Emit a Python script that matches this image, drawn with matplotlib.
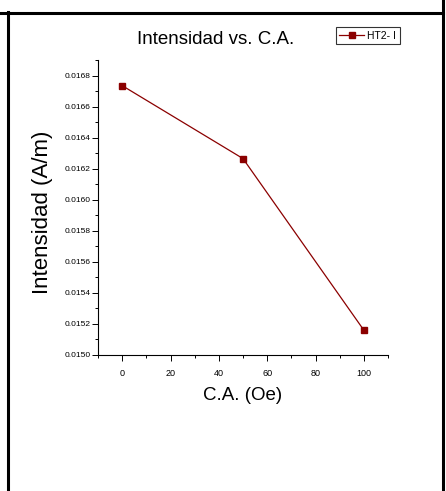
import matplotlib
matplotlib.use("Agg")
import matplotlib.pyplot as plt
from matplotlib.lines import Line2D
from matplotlib.ticker import MultipleLocator, FormatStrFormatter

plt.rcParams['font.family'] = ['Liberation Sans', 'DejaVu Sans']

x_vals = [0, 50, 100]
y_vals = [0.016735, 0.016265, 0.015160]
series_name = "HT2- I"
title = "Intensidad vs. C.A."
xlabel = "C.A. (Oe)"
ylabel = "Intensidad (A/m)"

W, H = 446, 491
fig = plt.figure(figsize=(W / 100, H / 100), dpi=100)
ax = fig.add_axes([98 / W, 1 - 355 / H, (388 - 98) / W, (355 - 60) / H])

color = '#8B0000'
ax.plot(x_vals, y_vals, color=color, lw=0.9, marker='s', markersize=5,
        markerfacecolor=color, markeredgecolor=color, label=series_name)

ax.set_xlim(-10, 110)
ax.set_ylim(0.0150, 0.0169)
ax.xaxis.set_major_locator(MultipleLocator(20))
ax.xaxis.set_minor_locator(MultipleLocator(10))
ax.yaxis.set_major_locator(MultipleLocator(0.0002))
ax.yaxis.set_minor_locator(MultipleLocator(0.0001))
ax.yaxis.set_major_formatter(FormatStrFormatter('%.4f'))
ax.spines['top'].set_visible(False)
ax.spines['right'].set_visible(False)
for s in ('left', 'bottom'):
    ax.spines[s].set_linewidth(0.8)
ax.tick_params(which='major', direction='out', length=4, width=0.7, labelsize=6, pad=1.5)
ax.tick_params(which='minor', direction='out', length=2.5, width=0.7)
ax.tick_params(axis='x', labelsize=6.5, pad=6)

fig.text(216 / W, 1 - 39 / H, title, ha='center', va='center', fontsize=13.5)
fig.text(243 / W, 1 - 396 / H, xlabel, ha='center', va='center', fontsize=13.5)
fig.text(43 / W, 1 - 212 / H, ylabel, ha='center', va='center', rotation=90, fontsize=16)

leg = ax.legend(loc='upper right', bbox_to_anchor=(400 / W, 1 - 27 / H), bbox_transform=fig.transFigure,
                fontsize=7.5, frameon=True, fancybox=False, edgecolor='black', borderpad=0.35,
                handlelength=2.4, handletextpad=0.3, borderaxespad=0, markerscale=0.8)
leg.get_frame().set_linewidth(0.8)

lw = 2.2
fig.add_artist(Line2D([0, 443 / W], [1 - 12.5 / H, 1 - 12.5 / H], transform=fig.transFigure, color='black', lw=lw))
fig.add_artist(Line2D([7.5 / W, 7.5 / W], [1 - 12 / H, 0], transform=fig.transFigure, color='black', lw=lw))
fig.add_artist(Line2D([442.5 / W, 442.5 / W], [1, 0], transform=fig.transFigure, color='black', lw=lw))

fig.savefig('out.png', dpi=100)
